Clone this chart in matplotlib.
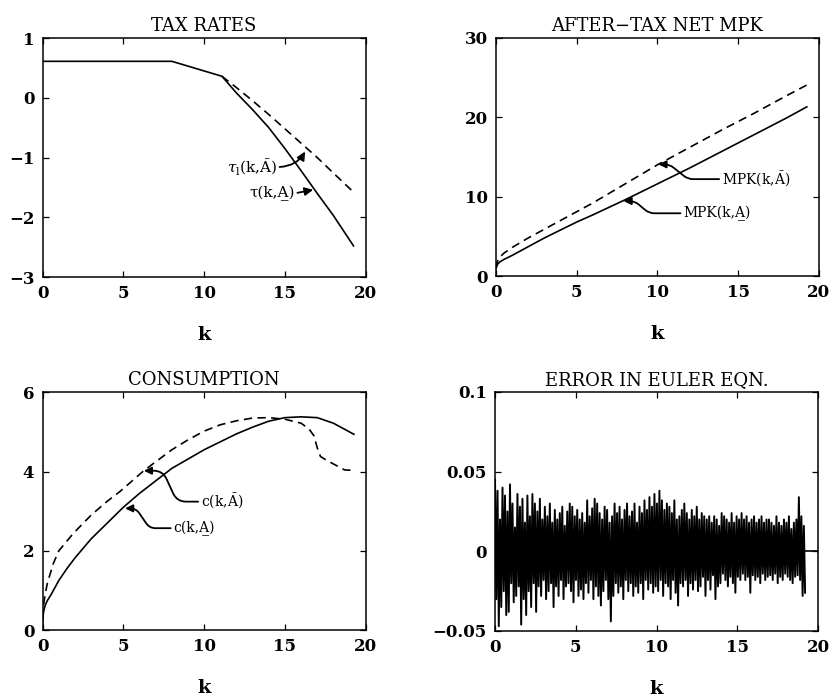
"""
plot.py: four-panel figure of the tax rule, after-tax MPK, consumption
and the Euler-equation error, each plotted against capital k.
"""

import numpy as np
import matplotlib.pyplot as plt

plt.rcParams["font.family"] = ["DejaVu Serif", "DejaVu Sans"]
plt.rcParams["mathtext.fontset"] = "dejavuserif"

# ---- TAX RATES --------------------------------------------------------
TAX_K_LOW = [0.0, 8.0, 11.1, 12.0, 13.0, 14.0, 15.0, 16.0, 17.0, 18.0, 19.25]
TAX_LOW = [0.61, 0.61, 0.36, 0.08, -0.20, -0.50, -0.85, -1.22, -1.60, -1.97, -2.48]
TAX_K_HIGH = [11.1, 12.0, 13.0, 14.0, 15.0, 16.0, 17.0, 18.0, 19.25]
TAX_HIGH = [0.36, 0.17, -0.05, -0.28, -0.52, -0.76, -1.00, -1.26, -1.58]

# ---- AFTER-TAX NET MPK ------------------------------------------------
MPK_K = [0.0, 0.1, 0.25, 0.5, 1.0, 2.0, 3.0, 4.0, 5.0, 6.0, 8.0, 10.0,
         12.0, 14.0, 16.0, 18.0, 19.26]
MPK_LOW = [1.0, 1.5, 1.8, 2.1, 2.6, 3.7, 4.8, 5.8, 6.8, 7.7, 9.6, 11.6,
           13.6, 15.7, 17.8, 19.9, 21.3]
MPK_HIGH = [1.0, 1.9, 2.4, 2.9, 3.6, 4.8, 5.9, 7.0, 8.1, 9.2, 11.6, 14.0,
            16.2, 18.4, 20.5, 22.7, 24.05]

# ---- CONSUMPTION ------------------------------------------------------
C_K_LOW = [0.0, 0.05, 0.15, 0.3, 0.5, 1.0, 1.5, 2.0, 3.0, 4.0, 5.0, 6.0,
           8.0, 10.0, 12.0, 13.0, 14.0, 15.0, 16.0, 17.0, 18.0, 19.27]
C_LOW = [0.2, 0.45, 0.62, 0.75, 0.88, 1.25, 1.55, 1.82, 2.3, 2.7, 3.1, 3.45,
         4.08, 4.55, 4.95, 5.12, 5.27, 5.36, 5.38, 5.36, 5.22, 4.94]
C_K_HIGH = [0.0, 0.05, 0.15, 0.3, 0.66, 1.0, 1.9, 3.0, 4.0, 4.8, 6.26, 8.0,
            9.0, 10.0, 11.0, 12.0, 13.0, 14.0, 15.0, 16.0, 16.5, 16.8, 17.0,
            17.2, 17.6, 18.1, 18.7, 19.27]
C_HIGH = [0.3, 0.6, 0.9, 1.2, 1.68, 2.0, 2.44, 2.9, 3.25, 3.5, 4.02, 4.55,
          4.8, 5.02, 5.18, 5.28, 5.35, 5.36, 5.32, 5.22, 5.07, 4.9, 4.6,
          4.38, 4.28, 4.17, 4.04, 4.03]

EULER_ERR_E3 = [
    45, -30, 38, -47, 20, -35, 40, -25, 35, -40,
    25, -38, 42, -20, 30, -32, 15, -28, 36, -22,
    28, -46, 33, -30, 18, -40, 35, -25, 22, -35,
    36, -20, 30, -38, 25, -22, 33, -28, 20, -18,
    28, -30, 22, -25, 30, -20, 18, -35, 26, -22,
    20, -28, 24, -18, 28, -30, 16, -22, 25, -20,
    30, -25, 28, -32, 22, -18, 26, -28, 20, -24,
    24, -30, 18, -20, 32, -26, 22, -18, 27, -30,
    33, -22, 30, -28, 24, -34, 20, -25, 28, -18,
    26, -30, 18, -44, 22, -28, 30, -20, 24, -26,
    28, -22, 20, -30, 26, -18, 30, -25, 22, -20,
    25, -28, 30, -22, 18, -26, 28, -20, 24, -30,
    32, -18, 26, -24, 34, -20, 28, -26, 36, -22,
    30, -25, 38, -18, 32, -28, 26, -20, 30, -22,
    28, -30, 24, -18, 32, -26, 20, -34, 22, -20,
    26, -22, 30, -18, 24, -28, 20, -20, 26, -24,
    22, -18, 28, -25, 20, -22, 24, -16, 22, -28,
    20, -18, 22, -24, 18, -15, 22, -30, 20, -22,
    16, -20, 24, -14, 22, -18, 20, -22, 18, -16,
    24, -20, 18, -26, 22, -16, 20, -18, 24, -14,
    20, -18, 22, -16, 18, -26, 20, -15, 22, -18,
    18, -16, 20, -20, 22, -14, 18, -18, 20, -16,
    20, -15, 18, -18, 16, -14, 22, -20, 18, -16,
    16, -18, 20, -14, 18, -16, 22, -18, 14, -20,
    18, -16, 20, -15, 34, -18, 22, -28, 16, -26,
]
EULER_K_END = 19.2
EULER_TAIL_K = [19.2, 20.0]
EULER_TAIL_ERR = [0.0, 0.0]

XTICKS = [0, 5, 10, 15, 20]
TAX_YTICKS = [1, 0, -1, -2, -3]
MPK_YTICKS = [0, 10, 20, 30]
C_YTICKS = [0, 2, 4, 6]
EULER_YTICKS = [0.1, 0.05, 0, -0.05]
EULER_YLABELS = ["0.1", "0.05", "0", "\u22120.05"]

TICK_FONT = dict(family="DejaVu Serif", weight="bold", size=12)
LBL_SIZE = 10
DASH = (0, (5, 3.2))
ARROW = dict(arrowstyle="-|>,head_length=0.45,head_width=0.22",
             color="black", lw=1.3, shrinkA=0, shrinkB=0)


def style_axes(ax, title, yticks, ylim, ylabels=None):
    ax.set_xlim(0, 20)
    ax.set_ylim(*ylim)
    ax.set_xticks(XTICKS)
    ax.set_yticks(yticks)
    if ylabels is not None:
        ax.set_yticklabels(ylabels)
    for lab in ax.get_xticklabels() + ax.get_yticklabels():
        lab.set_fontproperties(TICK_FONT)
    ax.tick_params(direction="in", top=True, right=True, length=4,
                   width=0.9, pad=6)
    for sp in ax.spines.values():
        sp.set_linewidth(1.1)
    ax.set_title(title, fontsize=13, pad=5)
    ax.set_xlabel("k", fontsize=14, fontweight="bold", labelpad=17)


def squiggle(ax, text, tip, at, armA, armB, rad=6):
    """Label on the right, wiggly arrow running left into the curve."""
    arrow = dict(ARROW, relpos=(0, 0.5),
                 connectionstyle=f"arc,angleA=180,armA={armA},"
                                 f"angleB=0,armB={armB},rad={rad}")
    ax.annotate(text, xy=tip, xytext=at, ha="left", va="center",
                fontsize=LBL_SIZE, arrowprops=arrow)


fig = plt.figure(figsize=(8.32, 6.99), dpi=100)
ax1 = fig.add_axes([0.0513, 0.6037, 0.3882, 0.3419])
ax2 = fig.add_axes([0.5962, 0.6051, 0.3879, 0.3409])
ax3 = fig.add_axes([0.0513, 0.0987, 0.3882, 0.3401])
ax4 = fig.add_axes([0.5950, 0.0973, 0.3882, 0.3419])

# tax rates
ax1.plot(TAX_K_LOW, TAX_LOW, color="black", lw=1.2)
ax1.plot(TAX_K_HIGH, TAX_HIGH, color="black", lw=1.2, ls=DASH)
style_axes(ax1, "TAX RATES", TAX_YTICKS, (-3, 1))
ax1.annotate(r"$\tau_{\rm l}$(k,$\bar{\rm A}$)", xy=(16.25, -0.9),
             xytext=(14.5, -1.16), ha="right", va="center",
             fontsize=11,
             arrowprops=dict(ARROW, relpos=(1, 0.5),
                             connectionstyle="angle3,angleA=0,angleB=60"))
ax1.annotate("\u03c4(k,A\u0332)", xy=(16.75, -1.54), xytext=(15.6, -1.6),
             ha="right", va="center", fontsize=11,
             arrowprops=dict(ARROW, relpos=(1, 0.5)))

# after-tax net MPK
ax2.plot(MPK_K, MPK_LOW, color="black", lw=1.2)
ax2.plot(MPK_K, MPK_HIGH, color="black", lw=1.2, ls=DASH)
style_axes(ax2, "AFTER\u2212TAX NET MPK", MPK_YTICKS, (0, 30))
squiggle(ax2, "MPK(k,$\\bar{\\rm A}$)", (10.06, 14.06), (14.0, 12.2),
         armA=34, armB=11, rad=5)
squiggle(ax2, "MPK(k,A\u0332)", (7.9, 9.44), (11.6, 7.9),
         armA=34, armB=11, rad=5)

# consumption
ax3.plot(C_K_LOW, C_LOW, color="black", lw=1.2)
ax3.plot(C_K_HIGH, C_HIGH, color="black", lw=1.2, ls=DASH)
style_axes(ax3, "CONSUMPTION", C_YTICKS, (0, 6))
squiggle(ax3, "c(k,$\\bar{\\rm A}$)", (6.26, 4.02), (9.8, 3.24),
         armA=24, armB=19, rad=9)
squiggle(ax3, "c(k,A\u0332)", (5.1, 3.07), (8.1, 2.57),
         armA=24, armB=11, rad=6)

# Euler equation error
euler_err = np.array(EULER_ERR_E3) * 1e-3
euler_k = np.linspace(0, EULER_K_END, len(euler_err))
ax4.plot(euler_k, euler_err, color="black", lw=1.4)
ax4.plot(EULER_TAIL_K, EULER_TAIL_ERR, color="black", lw=1.2)
style_axes(ax4, "ERROR IN EULER EQN.", EULER_YTICKS, (-0.05, 0.1),
           EULER_YLABELS)

fig.savefig("out.png", dpi=100)
